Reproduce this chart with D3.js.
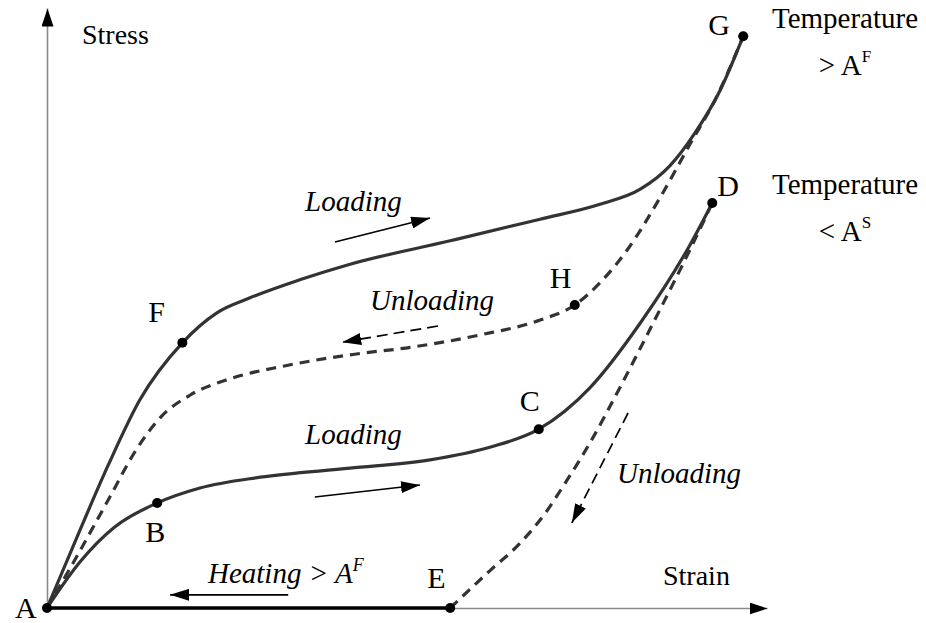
<!DOCTYPE html>
<html>
<head>
<meta charset="utf-8">
<script src="https://cdn.jsdelivr.net/npm/d3@7/dist/d3.min.js"></script>
<style>
  html, body { margin: 0; padding: 0; background: #fff; }
  svg { display: block; }
  text { font-family: "Liberation Serif", "Times New Roman", serif; fill: #000; }
  .ital { font-style: italic; }
</style>
</head>
<body>
<svg id="chart" width="926" height="623"></svg>
<script>
// Stress-strain paths of a shape-memory alloy (strain and stress in relative units, 0-100)

// Loading above A^F: A -> F -> G
const loadingAboveAf = [
  [0, 0], [4.3, 12.2], [8.5, 23.8], [12.9, 34.7], [18.8, 44.2], [23.6, 49.2],
  [28.2, 51.7], [35.1, 54.7], [42.1, 57.3], [56.0, 61.2], [68.5, 64.8],
  [76.8, 67.3], [82.4, 69.8], [86.5, 73.7], [90.0, 79.2], [93.5, 86.3],
  [96.7, 95.3]
];

// Unloading above A^F: G -> H -> A
const unloadingAboveAf = [
  [96.7, 95.3], [92.8, 84.7], [89.3, 77.3], [85.1, 68.3], [80.6, 59.7],
  [76.8, 54.2], [73.3, 50.5], [68.5, 48.0], [60.1, 45.5], [50.8, 43.5],
  [42.1, 42.2], [32.8, 40.3], [25.4, 38.2], [19.9, 35.5], [15.7, 31.7],
  [12.2, 26.0], [8.5, 18.0], [4.0, 8.3], [0, 0]
];

// Loading below A^S: A -> B -> C -> D
const loadingBelowAs = [
  [0, 0], [4.6, 7.7], [9.4, 13.5], [15.3, 17.5], [21.25, 20.0], [29.6, 21.8],
  [42.1, 23.3], [53.2, 24.7], [61.5, 26.8], [68.3, 29.8], [75.4, 36.7],
  [82.4, 47.5], [89.3, 60.5], [92.4, 67.5]
];

// Unloading below A^S: D -> E (residual strain)
const unloadingBelowAs = [
  [92.4, 67.5], [89.3, 59.7], [84.4, 48.0], [79.6, 36.8], [75.4, 27.5],
  [71.9, 20.7], [69.2, 15.8], [65.7, 10.8], [61.5, 6.2], [56.0, 0]
];

// Heating above A^F recovers the residual strain: E -> A
const heatingRecovery = [[56.0, 0], [0, 0]];

// Named states on the paths
const stateNames  = ["A", "B", "C", "D", "E", "F", "G", "H"];
const stateStrain = [0, 15.3, 68.3, 92.4, 56.0, 18.8, 96.7, 73.3];
const stateStress = [0, 17.5, 29.8, 67.5, 0, 44.2, 95.3, 50.5];

// Direction arrows along the paths: [strain, stress] start and end
const arrowNames = ["loadHigh", "unloadHigh", "loadLow", "unloadLow", "heat"];
const arrowFrom  = [[40.0, 61.0], [54.3, 47.0], [37.2, 18.5], [80.7, 32.5], [33.5, 2.2]];
const arrowTo    = [[53.2, 65.0], [41.0, 44.3], [51.8, 20.5], [72.9, 14.2], [17.1, 2.2]];
const arrowDashed = [false, true, false, true, false];

const strainDomain = [0, 100];
const stressDomain = [0, 100];

// ---- layout ----
const svg = d3.select("#chart");
const x = d3.scaleLinear().domain(strainDomain).range([47, 767]);
const y = d3.scaleLinear().domain(stressDomain).range([608, 8]);

const defs = svg.append("defs");
function arrowMarker(id, len, half) {
  defs.append("marker")
    .attr("id", id)
    .attr("markerUnits", "userSpaceOnUse")
    .attr("viewBox", `0 ${-half} ${len} ${2 * half}`)
    .attr("refX", len).attr("refY", 0)
    .attr("markerWidth", len).attr("markerHeight", 2 * half)
    .attr("orient", "auto")
    .append("path")
    .attr("d", `M0,${-half}L${len},0L0,${half}Z`)
    .attr("fill", "#000");
}
arrowMarker("axisHead", 18, 6);
arrowMarker("pathHead", 19, 6);

// Axes without ticks, arrow-tipped
const xAxis = svg.append("g")
  .attr("transform", `translate(0,${y(0)})`)
  .call(d3.axisBottom(x).tickValues([]).tickSizeOuter(0));
const yAxis = svg.append("g")
  .attr("transform", `translate(${x(0)},0)`)
  .call(d3.axisLeft(y).tickValues([]).tickSizeOuter(0));
[xAxis, yAxis].forEach(g => g.select(".domain")
  .attr("stroke", "#8a8a8a").attr("stroke-width", 1.6)
  .attr("marker-end", "url(#axisHead)"));

// Curves: each path is monotone in strain, so draw it in strain order
const curveLine = d3.line()
  .x(d => x(d[0])).y(d => y(d[1]))
  .curve(d3.curveMonotoneX);

const paths = [
  { data: loadingAboveAf, dashed: false },
  { data: unloadingAboveAf, dashed: true },
  { data: loadingBelowAs, dashed: false },
  { data: unloadingBelowAs, dashed: true }
];
svg.append("g").selectAll("path").data(paths).join("path")
  .attr("d", d => curveLine(d3.sort(d.data, p => p[0])))
  .attr("fill", "none")
  .attr("stroke", "#333")
  .attr("stroke-width", 3.2)
  .attr("stroke-dasharray", d => d.dashed ? "10,7" : null);

svg.append("path")
  .attr("d", d3.line().x(d => x(d[0])).y(d => y(d[1]))(heatingRecovery))
  .attr("stroke", "#000")
  .attr("stroke-width", 3.6)
  .attr("fill", "none");

// Direction arrows
svg.append("g").selectAll("line").data(arrowNames).join("line")
  .attr("x1", (d, i) => x(arrowFrom[i][0])).attr("y1", (d, i) => y(arrowFrom[i][1]))
  .attr("x2", (d, i) => x(arrowTo[i][0])).attr("y2", (d, i) => y(arrowTo[i][1]))
  .attr("stroke", "#000")
  .attr("stroke-width", 1.7)
  .attr("stroke-dasharray", (d, i) => arrowDashed[i] ? "11,6" : null)
  .attr("marker-end", "url(#pathHead)");

// State points and their letters
const states = stateNames.map((n, i) => ({ name: n, strain: stateStrain[i], stress: stateStress[i] }));
const letterOffset = {
  A: [-32, 10], B: [-12, 39], C: [-19, -18], D: [5, -7],
  E: [-23, -20], F: [-34, -21], G: [-35, -1], H: [-25, -17]
};
svg.append("g").selectAll("circle").data(states).join("circle")
  .attr("cx", d => x(d.strain)).attr("cy", d => y(d.stress))
  .attr("r", 5).attr("fill", "#000");
svg.append("g").selectAll("text").data(states).join("text")
  .attr("x", d => x(d.strain) + letterOffset[d.name][0])
  .attr("y", d => y(d.stress) + letterOffset[d.name][1])
  .attr("font-size", 30)
  .text(d => d.name);

// Axis titles
svg.append("text").attr("x", 82).attr("y", 44).attr("font-size", 28).text("Stress");
svg.append("text").attr("x", 663).attr("y", 585).attr("font-size", 28).text("Strain");

// Temperature notes
function tempNote(yTop, sym, sup) {
  svg.append("text").attr("x", 845).attr("y", yTop).attr("text-anchor", "middle")
    .attr("font-size", 29).text("Temperature");
  const t = svg.append("text").attr("x", 845).attr("y", yTop + 47)
    .attr("text-anchor", "middle").attr("font-size", 29);
  t.append("tspan").text(sym + " A");
  t.append("tspan").attr("font-size", 17).attr("dy", -13).text(sup);
}
tempNote(28, ">", "F");
tempNote(194, "<", "S");

// Path annotations
const notes = [
  { text: "Loading", px: 305, py: 211 },
  { text: "Unloading", px: 370, py: 310 },
  { text: "Loading", px: 305, py: 444 },
  { text: "Unloading", px: 617, py: 483 }
];
svg.append("g").selectAll("text").data(notes).join("text")
  .attr("class", "ital")
  .attr("x", d => d.px).attr("y", d => d.py)
  .attr("font-size", 29)
  .text(d => d.text);

const heat = svg.append("text").attr("class", "ital")
  .attr("x", 208).attr("y", 583).attr("font-size", 29);
heat.append("tspan").text("Heating > A");
heat.append("tspan").attr("font-size", 18).attr("dy", -12).text("F");
</script>
</body>
</html>
